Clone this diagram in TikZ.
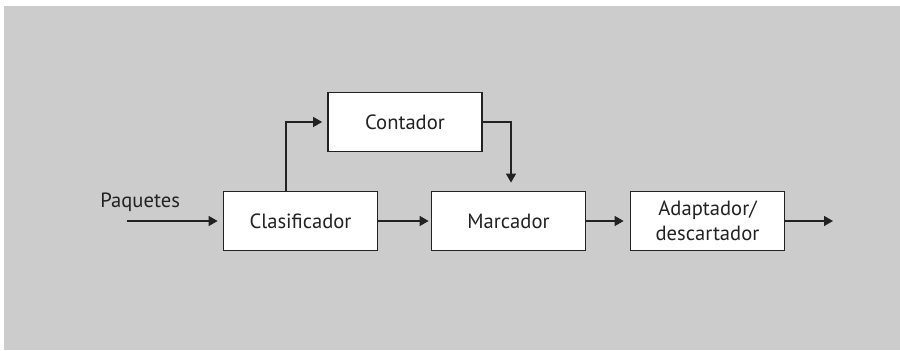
\documentclass[tikz,border=0pt]{standalone}
\usepackage{fontspec}
\setmainfont{PT Sans}
\usetikzlibrary{arrows.meta}
\definecolor{bggray}{HTML}{CCCCCC}
\definecolor{ink}{HTML}{222222}
\begin{document}
\begin{tikzpicture}[x=0.5pt,y=-0.5pt,
  blockbox/.style={draw=ink,line width=0.9pt,fill=white,minimum width=77pt,minimum height=29.5pt,inner sep=0pt,font=\fontsize{10.3}{12.5}\selectfont,align=center,text=ink},
  arr/.style={draw=ink,line width=0.7pt,-{Triangle[length=4.5pt,width=5pt]}},
  lbl/.style={font=\fontsize{10.3}{12.5}\selectfont,text=ink,inner sep=0pt}]
\useasboundingbox (0,0) rectangle (900,351);
\fill[bggray] (4,6) rectangle (900,350);
\node[blockbox] (clas) at (300.5,221) {Clasificador};
\node[blockbox] (cont) at (405,122) {Contador};
\node[blockbox] (marc) at (508.5,221) {Marcador};
\node[blockbox] (adap) at (707.5,221) {Adaptador/\\descartador};
\node[lbl,anchor=base west] (paq) at (100,208) {Paquetes};
\coordinate (in) at (127,221);
\coordinate (out) at (833,221);
\draw[arr,shorten >=2.5pt] (in) -- (clas.west);
\draw[arr,shorten >=2.5pt] ([xshift=-7.25pt]clas.north) |- (cont.west);
\draw[arr,shorten >=4pt] (cont.east) -| ([xshift=1.25pt]marc.north);
\draw[arr,shorten >=1pt] (clas.east) -- (marc.west);
\draw[arr,shorten >=3pt] (marc.east) -- (adap.west);
\draw[arr] (adap.east) -- (out);
\end{tikzpicture}
\end{document}
